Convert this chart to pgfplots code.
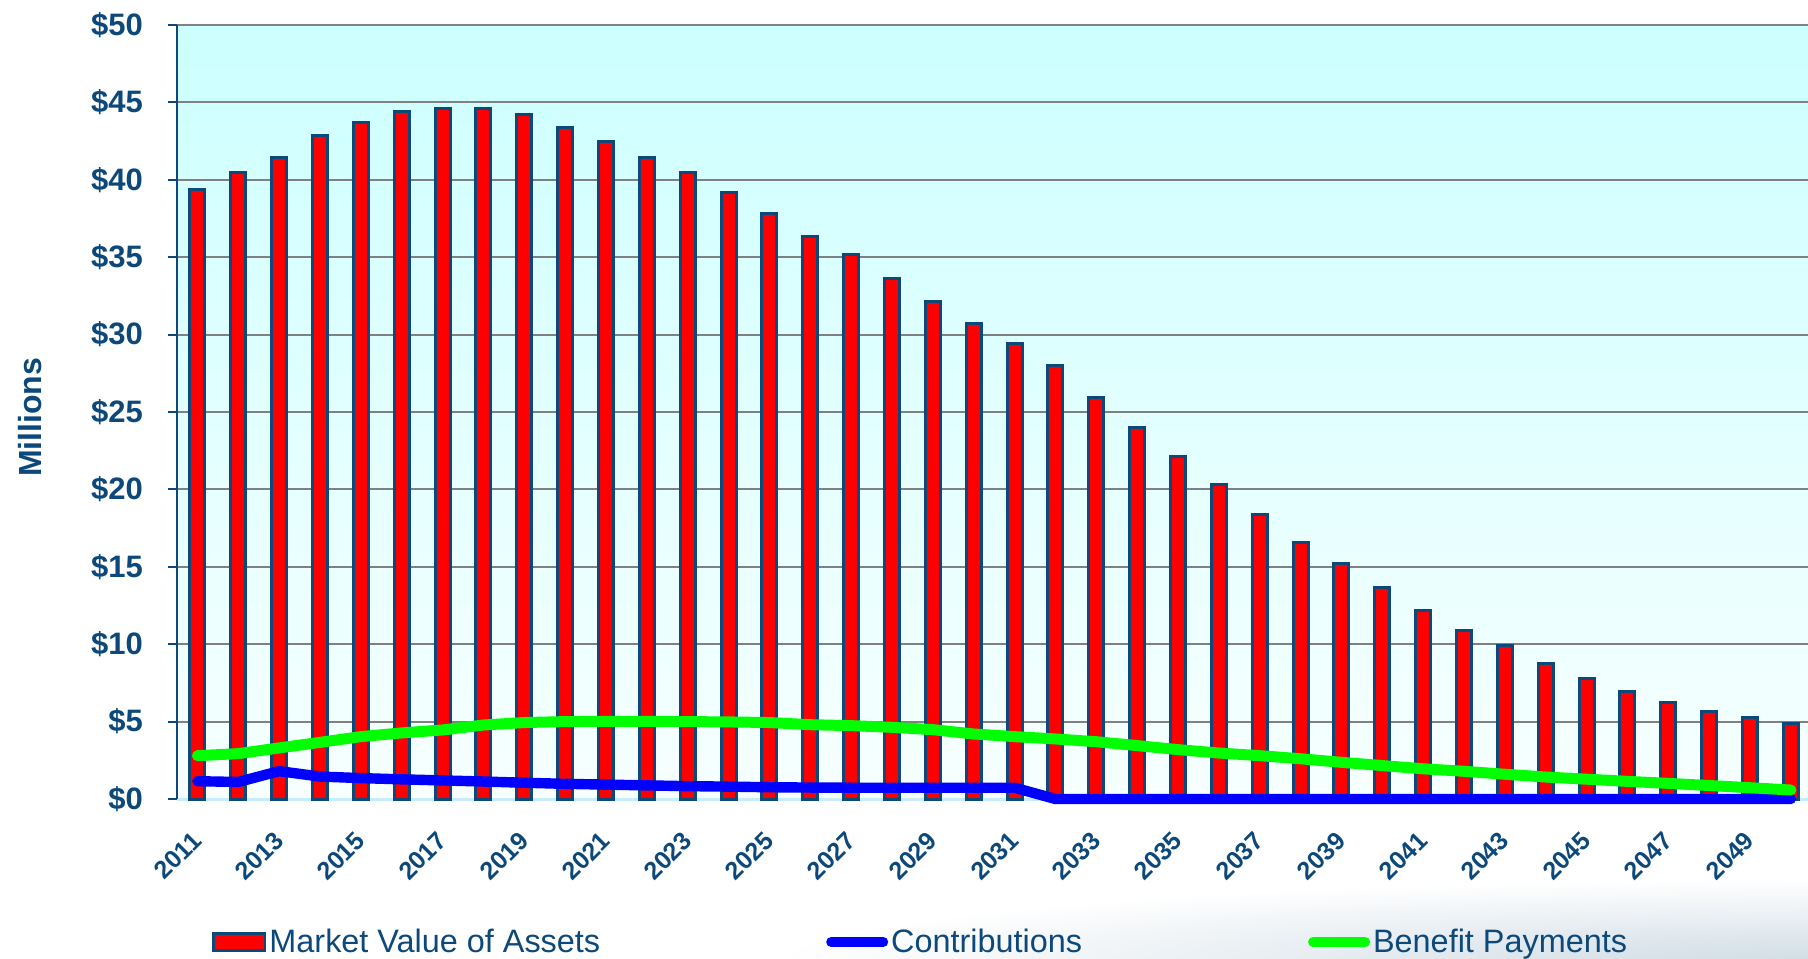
\documentclass[border=0pt]{standalone}
\usepackage{pgfplots}
\pgfplotsset{compat=1.18}
\usepackage{pgfplotstable}
\usepackage{fontspec}
\setmainfont{Liberation Sans}
\definecolor{dblue}{RGB}{12,72,122}
\definecolor{gridgray}{RGB}{128,128,128}
\definecolor{lgreen}{RGB}{0,255,0}
\definecolor{bblue}{RGB}{0,0,255}
\definecolor{bottomtint}{RGB}{208,220,229}

\pgfplotstableread{
year mva
2011 39.4
2012 40.5
2013 41.45
2014 42.85
2015 43.7
2016 44.4
2017 44.6
2018 44.6
2019 44.2
2020 43.4
2021 42.5
2022 41.45
2023 40.45
2024 39.2
2025 37.8
2026 36.35
2027 35.15
2028 33.6
2029 32.15
2030 30.7
2031 29.45
2032 28.0
2033 25.95
2034 24.0
2035 22.15
2036 20.3
2037 18.4
2038 16.6
2039 15.2
2040 13.65
2041 12.2
2042 10.9
2043 9.9
2044 8.75
2045 7.8
2046 6.95
2047 6.25
2048 5.67
2049 5.25
2050 4.85
}\mvatable

\pgfplotstableread{
year contrib
2011 1.15
2012 1.1
2013 1.8
2014 1.45
2015 1.35
2016 1.27
2017 1.2
2018 1.13
2019 1.05
2020 0.98
2021 0.93
2022 0.88
2023 0.83
2024 0.8
2025 0.76
2026 0.74
2027 0.73
2028 0.73
2029 0.73
2030 0.73
2031 0.73
2032 0.0
2033 0.0
2034 0.0
2035 0.0
2036 0.0
2037 0.0
2038 0.0
2039 0.0
2040 0.0
2041 0.0
2042 0.0
2043 0.0
2044 0.0
2045 0.0
2046 0.0
2047 0.0
2048 0.0
2049 0.0
2050 0.0
}\contribtable

\pgfplotstableread{
year benefit
2011 2.8
2012 2.93
2013 3.3
2014 3.66
2015 4.03
2016 4.27
2017 4.46
2018 4.78
2019 4.94
2020 5.0
2021 5.02
2022 5.02
2023 5.0
2024 4.98
2025 4.94
2026 4.8
2027 4.74
2028 4.63
2029 4.48
2030 4.2
2031 4.03
2032 3.88
2033 3.7
2034 3.45
2035 3.19
2036 2.97
2037 2.8
2038 2.6
2039 2.37
2040 2.16
2041 1.95
2042 1.79
2043 1.6
2044 1.42
2045 1.28
2046 1.14
2047 1.01
2048 0.87
2049 0.73
2050 0.58
}\benefittable

\begin{document}
\begin{tikzpicture}
\begin{scope}
\clip (-88.5pt,-79.5pt) rectangle (815.5pt,-40pt);
\shade[inner color=bottomtint, outer color=white] (815.5pt,-82pt) ellipse (520pt and 42pt);
\end{scope}
\begin{axis}[
  at={(0pt,0pt)}, anchor=south west,
  scale only axis, width=815.5pt, height=387pt,
  xmin=2010.5, xmax=2050.42, ymin=0, ymax=50,
  clip=false,
  axis x line*=bottom, axis y line*=left,
  x axis line style={draw=cyan!22, line width=1.5pt},
  y axis line style={draw=dblue, line width=0.8pt},
  axis background/.style={top color=cyan!20, bottom color=cyan!3},
  ytick={0,5,...,50},
  yticklabels={\$0,\$5,\$10,\$15,\$20,\$25,\$30,\$35,\$40,\$45,\$50},
  ymajorgrids, major grid style={draw=gridgray, line width=1pt},
  ytick style={draw=dblue, line width=1pt},
  tick align=outside, major tick length=4.5pt,
  xtick={2011,2013,...,2049},
  xticklabels={2011,2013,2015,2017,2019,2021,2023,2025,2027,2029,2031,2033,2035,2037,2039,2041,2043,2045,2047,2049},
  xtick style={draw=none},
  xticklabel style={yshift=-14pt, xshift=0pt, rotate=45, anchor=east, inner sep=0pt, font=\bfseries\fontsize{12.5}{14}\selectfont, text=dblue},
  yticklabel style={font=\bfseries\fontsize{15.5}{18}\selectfont, text=dblue, xshift=-9pt},
  ylabel={Millions},
  ylabel style={font=\bfseries\fontsize{16}{19}\selectfont, text=dblue, at={(axis description cs:-0.0901,0.493)}, anchor=center},
  legend columns=3,
  legend style={at={(axis description cs:0.0215,-0.1848)}, anchor=west, draw=none, fill=none, inner sep=0pt,
    font=\fontsize{16.2}{19}\selectfont, text=dblue,
    nodes={inner sep=1.5pt},
    /tikz/every even column/.append style={column sep=111.5pt}},
]
\addplot[ybar, bar width=7.5pt, fill=red, draw=dblue, line width=1.5pt,
  legend image code/.code={\filldraw[fill=red, draw=dblue, line width=1.4pt] (0.7pt,-4.3pt) rectangle (26.3pt,4.3pt);}]
  table[x=year, y=mva] {\mvatable};
\addlegendentry{Market Value of Assets}
\addplot[draw=bblue, line width=5.2pt, line cap=round, line join=round,
  legend image code/.code={\draw[bblue, line width=5pt, line cap=round] (2.5pt,0pt) -- (28.5pt,0pt);}]
  table[x=year, y=contrib] {\contribtable};
\addlegendentry{Contributions}
\addplot[draw=lgreen, line width=5.5pt, line cap=round, line join=round,
  legend image code/.code={\draw[lgreen, line width=5pt, line cap=round] (2.5pt,0pt) -- (28.5pt,0pt);}]
  table[x=year, y=benefit] {\benefittable};
\addlegendentry{Benefit Payments}
\end{axis}
\pgfresetboundingbox
\path (-88.5pt,-79.5pt) rectangle (815.5pt,399.5pt);
\end{tikzpicture}
\end{document}
